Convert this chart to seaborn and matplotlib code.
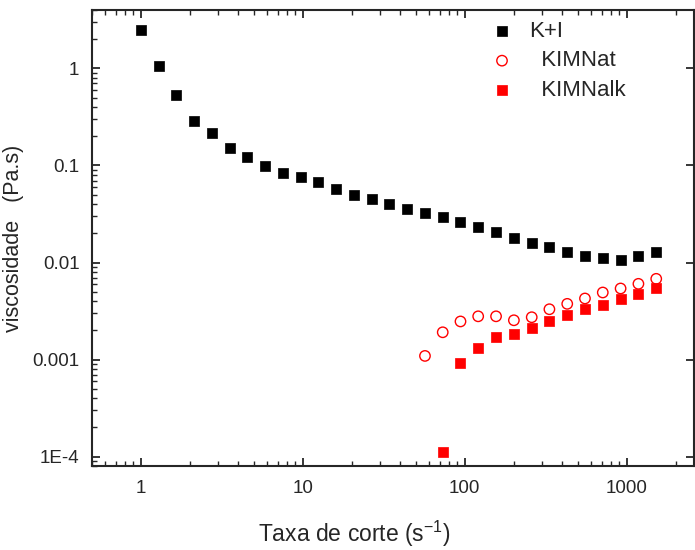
import matplotlib
matplotlib.use("Agg")
import matplotlib.pyplot as plt
import seaborn as sns
import pandas as pd
from matplotlib.ticker import LogLocator, NullFormatter

# shear rate (s^-1)
shear = [1, 1.29, 1.65, 2.13, 2.74, 3.53, 4.54, 5.85, 7.53, 9.7,
         12.5, 16.1, 20.7, 26.6, 34.3, 44.1, 56.8, 73.1, 94.1, 121,
         156, 201, 259, 333, 429, 552, 711, 916, 1180, 1520]

visc_KI = [2.5, 1.07, 0.527, 0.286, 0.217, 0.152, 0.123, 0.0977, 0.0833, 0.0757,
           0.0672, 0.0566, 0.0502, 0.0449, 0.0399, 0.0358, 0.0325, 0.0291, 0.0263, 0.0233,
           0.0207, 0.0180, 0.0160, 0.0144, 0.0129, 0.0118, 0.0112, 0.0107, 0.0117, 0.0127]

shear_nat = shear[16:]
visc_nat = [0.00109, 0.00191, 0.00247, 0.00279, 0.00279, 0.00254, 0.00273,
            0.00330, 0.00375, 0.00426, 0.00491, 0.00540, 0.00603, 0.00679]

shear_alk = shear[17:]
visc_alk = [1.12e-4, 9.16e-4, 0.00131, 0.00170, 0.00184, 0.00210, 0.00248,
            0.00286, 0.00330, 0.00369, 0.00422, 0.00471, 0.00540]

xticks = [1, 10, 100, 1000]
xtick_labels = ["1", "10", "100", "1000"]
yticks = [1e-4, 1e-3, 1e-2, 1e-1, 1]
ytick_labels = ["1E-4", "0.001", "0.01", "0.1", "1"]

df_ki = pd.DataFrame({"x": shear, "y": visc_KI})
df_nat = pd.DataFrame({"x": shear_nat, "y": visc_nat})
df_alk = pd.DataFrame({"x": shear_alk, "y": visc_alk})

sns.set_style("ticks")
plt.rcParams["font.family"] = ["Liberation Sans", "DejaVu Sans"]

fig = plt.figure(figsize=(6.95, 5.5), dpi=100)
ax = fig.add_axes([92/695, 1-466/550, (694-92)/695, (466-10)/550])

ms = 56
sns.scatterplot(data=df_ki, x="x", y="y", ax=ax, marker="s", s=ms,
                color="black", edgecolor="black", linewidth=0.5, label="K+I")
sns.scatterplot(data=df_nat, x="x", y="y", ax=ax, marker="o", s=ms,
                facecolor="none", edgecolor="red", linewidth=1.0, label="  KIMNat")
sns.scatterplot(data=df_alk, x="x", y="y", ax=ax, marker="s", s=ms,
                color="red", edgecolor="red", linewidth=0.5, label="  KIMNalk")

ax.set_xscale("log")
ax.set_yscale("log")
ax.set_xlim(0.5, 2600)
ax.set_ylim(8e-5, 4)

ax.set_xticks(xticks)
ax.set_xticklabels(xtick_labels)
ax.set_yticks(yticks)
ax.set_yticklabels(ytick_labels)
ax.xaxis.set_minor_locator(LogLocator(base=10, subs=range(2, 10), numticks=20))
ax.yaxis.set_minor_locator(LogLocator(base=10, subs=range(2, 10), numticks=20))
ax.xaxis.set_minor_formatter(NullFormatter())
ax.yaxis.set_minor_formatter(NullFormatter())

for s in ax.spines.values():
    s.set_linewidth(1.5)
    s.set_visible(True)
ax.tick_params(which="major", direction="in", length=6, width=1.3,
               top=True, right=True, labelsize=13.5)
ax.tick_params(axis="x", which="major", pad=10)
ax.tick_params(axis="y", which="major", pad=9)
ax.tick_params(which="minor", direction="in", length=3.5, width=1.0,
               top=True, right=False)

ax.set_xlabel("Taxa de corte (s$^{\\mathregular{-1}}$)", fontsize=16.5)
ax.xaxis.set_label_coords((354.5 - 92) / 602, -0.148)
ax.xaxis.label.set_va("center")
ax.set_ylabel("viscosidade   (Pa.s)", fontsize=15.5, labelpad=6)

leg = ax.legend(loc="upper left", bbox_to_anchor=(0.622, 1.005), frameon=False,
                fontsize=16, handletextpad=0.2, labelspacing=0.38,
                markerscale=1.0, borderaxespad=0.2)

fig.savefig("out.png", dpi=100)
